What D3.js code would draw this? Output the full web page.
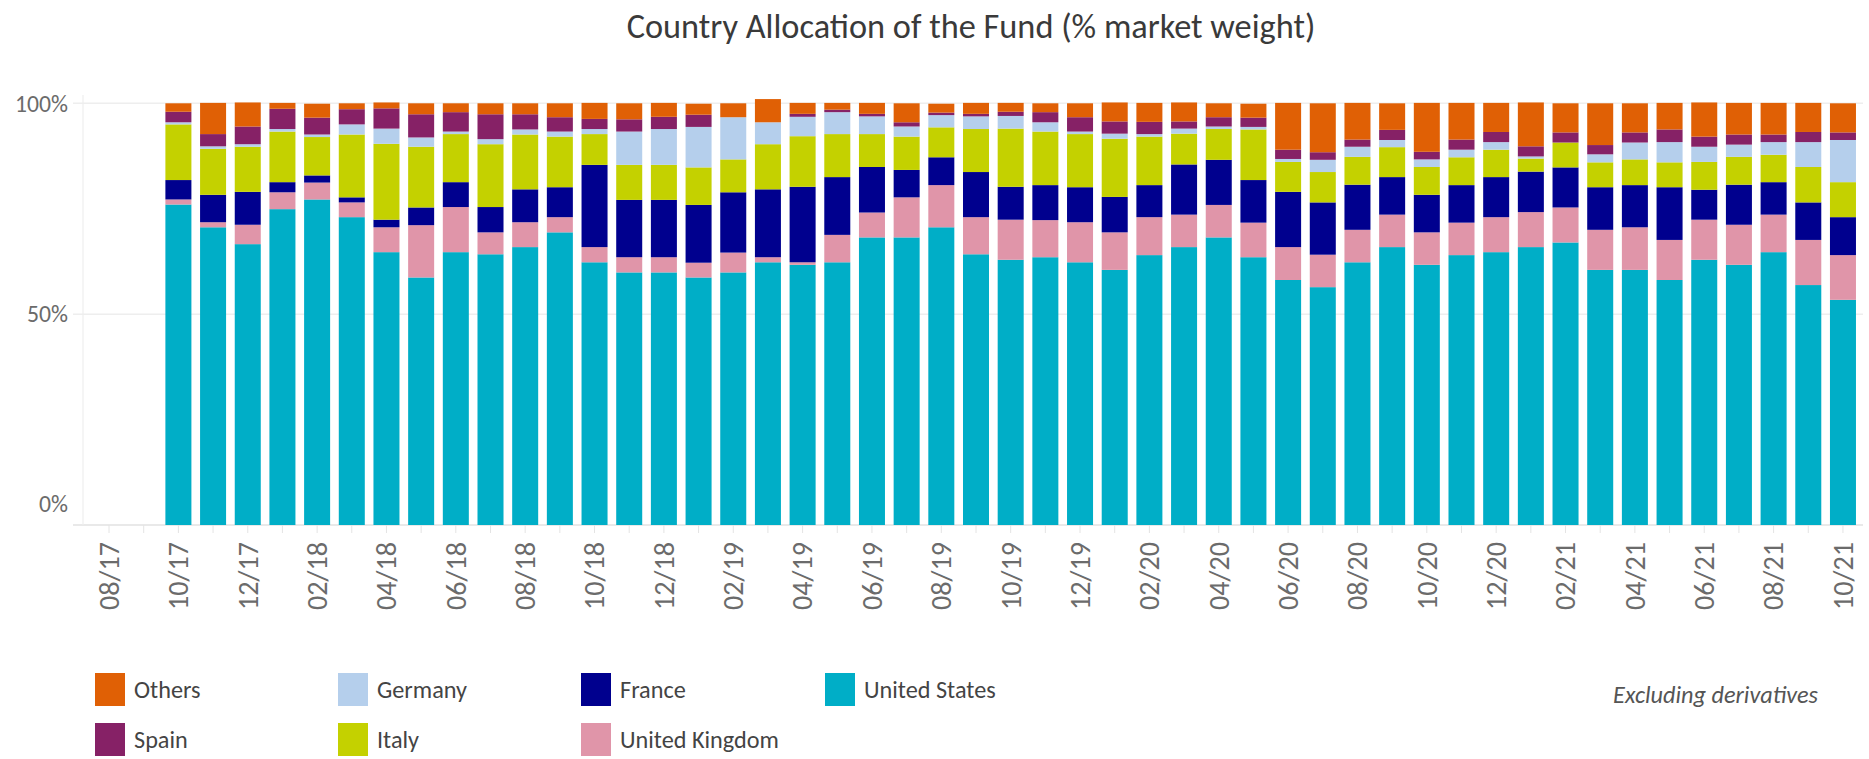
<!DOCTYPE html>
<html><head><meta charset="utf-8">
<script src="https://cdn.jsdelivr.net/npm/d3@7"></script>
<style>html,body{margin:0;padding:0;background:#fff;} svg{display:block;}</style>
</head><body>
<svg id="chart" width="1869" height="759"></svg>
<script>
// ---------- DATA ----------
const months = ["08/17","09/17","10/17","11/17","12/17","01/18","02/18","03/18","04/18","05/18","06/18","07/18","08/18","09/18","10/18","11/18","12/18",
  "01/19","02/19","03/19","04/19","05/19","06/19","07/19","08/19","09/19","10/19","11/19","12/19",
  "01/20","02/20","03/20","04/20","05/20","06/20","07/20","08/20","09/20","10/20","11/20","12/20",
  "01/21","02/21","03/21","04/21","05/21","06/21","07/21","08/21","09/21","10/21"];
const tickLabels = ["08/17","10/17","12/17","02/18","04/18","06/18","08/18","10/18","12/18","02/19","04/19","06/19","08/19","10/19","12/19",
  "02/20","04/20","06/20","08/20","10/20","12/20","02/21","04/21","06/21","08/21","10/21"];
const yTicks = [0, 50, 100];
const yTickLabels = ["0%", "50%", "100%"];

const unitedStates = [null,null,76.0,70.6,66.6,74.9,77.2,73.0,64.7,58.7,64.7,64.2,65.9,69.4,62.3,59.9,59.9,58.7,59.9,62.3,61.7,62.3,68.2,68.2,70.6,64.2,62.9,63.5,62.3,60.5,64.0,65.9,68.2,63.5,58.1,56.4,62.3,65.9,61.7,64.0,64.7,65.9,67.0,60.5,60.5,58.1,62.9,61.7,64.7,56.9,53.4];
const unitedKingdom = [null,null,1.2,1.2,4.6,4.0,4.0,3.5,5.9,12.4,10.7,5.2,5.9,3.6,3.6,3.6,3.6,3.5,4.7,1.2,0.6,6.5,5.9,9.5,10.0,8.8,9.5,8.8,9.5,8.9,9.0,7.7,7.7,8.2,7.8,7.7,7.7,7.7,7.7,7.7,8.3,8.3,8.3,9.5,10.1,9.5,9.5,9.5,8.9,10.7,10.6];
const france = [null,null,4.6,6.5,7.8,2.4,1.7,1.2,1.8,4.2,5.9,6.0,7.8,7.1,19.5,13.6,13.6,13.7,14.3,16.1,17.9,13.7,10.8,6.5,6.6,10.7,7.8,8.3,8.3,8.4,7.6,11.9,10.7,10.1,13.1,12.4,10.7,8.9,8.9,8.9,9.5,9.6,9.5,10.1,10.0,12.5,7.1,9.5,7.7,8.9,9.0];
const italy = [null,null,13.2,10.9,10.7,12.0,9.1,14.9,18.0,14.4,11.4,14.9,13.0,12.0,7.3,8.3,8.3,8.9,7.8,10.7,12.0,10.2,7.8,7.9,7.1,10.2,13.8,12.7,12.6,13.8,11.5,7.3,7.3,12.0,7.1,7.2,6.6,7.1,6.6,6.6,6.5,3.1,5.9,5.9,6.1,5.9,6.6,6.6,6.5,8.4,8.3];
const germany = [null,null,0.5,0.6,0.6,0.6,0.6,2.4,3.6,2.2,0.6,1.2,1.2,1.2,1.2,7.9,8.5,9.6,10.0,5.2,4.6,5.2,4.2,2.4,2.9,3.0,3.0,2.2,0.6,1.2,0.6,1.2,0.6,0.6,0.7,2.9,2.4,1.7,1.8,1.8,1.8,0.5,0.0,1.9,4.0,4.8,3.6,2.9,3.0,5.9,10.0];
const spain = [null,null,2.5,2.9,4.2,4.8,4.0,3.6,4.8,5.5,4.6,5.9,3.6,3.4,2.4,2.9,2.9,2.9,0.0,0.0,0.7,0.6,0.6,1.0,0.6,0.6,1.0,2.4,3.4,2.9,2.9,1.7,2.2,2.2,2.2,1.8,1.7,2.4,1.8,2.4,2.4,2.4,2.4,2.2,2.4,3.0,2.4,2.4,1.8,2.4,1.8];
const others = [null,null,2.0,7.4,5.7,1.4,3.3,1.4,1.4,2.6,2.1,2.6,2.6,3.3,3.8,3.8,3.3,2.6,3.3,5.5,2.6,1.6,2.6,4.5,2.1,2.6,2.1,2.1,3.3,4.5,4.5,4.5,3.3,3.3,11.1,11.6,8.7,6.3,11.6,8.7,6.9,10.4,6.9,9.9,6.9,6.3,8.1,7.5,7.5,6.9,6.9];

const seriesNames = ["United States","United Kingdom","France","Italy","Germany","Spain","Others"];
const seriesValues = [unitedStates, unitedKingdom, france, italy, germany, spain, others];
const seriesColors = ["#00AEC7","#E095A9","#00008E","#C4D100","#B5CFEC","#862166","#E06005"];
const legendRow1 = ["Others","Germany","France","United States"];
const legendRow2 = ["Spain","Italy","United Kingdom"];
const titleText = "Country Allocation of the Fund (% market weight)";
const noteText = "Excluding derivatives";

// ---------- CHART ----------
const svg = d3.select("#chart");
const FAMILY = "Carlito, Calibri, Lato, sans-serif";

function fitSize(text, target, style) {
  const t = svg.append("text").attr("font-family", FAMILY).attr("font-size", 100)
    .attr("font-style", style || "normal").text(text);
  const w = t.node().getComputedTextLength();
  t.remove();
  return 100 * target / w;
}

const rows = months.map((m, i) => {
  const r = { month: m, has: unitedStates[i] != null };
  seriesNames.forEach((s, k) => r[s] = seriesValues[k][i] == null ? 0 : seriesValues[k][i]);
  return r;
});
const stacked = d3.stack().keys(seriesNames)(rows);
const color = d3.scaleOrdinal().domain(seriesNames).range(seriesColors);

const x = d3.scaleBand().domain(months).range([91.7, 1860.3]).paddingInner(0.25).paddingOuter(0.125);
const y = d3.scaleLinear().domain([0, 100]).range([525, 103.3]);

const gridLeft = 73, gridRight = 1863;

// grid lines
svg.append("g").selectAll("line").data(yTicks).join("line")
  .attr("x1", gridLeft).attr("x2", gridRight)
  .attr("y1", d => y(d)).attr("y2", d => y(d))
  .attr("stroke", d => d === 0 ? "#e2e2e2" : "#eeeeee").attr("stroke-width", 1.5);

// left vertical line
svg.append("line").attr("x1", 83).attr("x2", 83).attr("y1", 95).attr("y2", y(0))
  .attr("stroke", "#eeeeee").attr("stroke-width", 1.2);

// month tick marks
svg.append("g").selectAll("line").data(months).join("line")
  .attr("x1", d => x(d) + x.bandwidth() / 2).attr("x2", d => x(d) + x.bandwidth() / 2)
  .attr("y1", y(0)).attr("y2", y(0) + 8)
  .attr("stroke", "#e4e4e4").attr("stroke-width", 1);

// bars
svg.append("g").selectAll("g").data(stacked).join("g")
  .attr("fill", d => color(d.key))
  .selectAll("rect").data(d => d.filter(p => p.data.has && p[1] - p[0] > 0)).join("rect")
  .attr("x", d => x(d.data.month))
  .attr("width", x.bandwidth())
  .attr("y", d => y(d[1]))
  .attr("height", d => y(d[0]) - y(d[1]));

// y tick labels (the 0% label sits slightly above its line, as in the original)
const yFont = fitSize("100%", 53);
svg.append("g").selectAll("text").data(yTicks).join("text")
  .attr("x", 68).attr("y", d => d === 0 ? y(d) - 21 : y(d)).attr("dy", "0.35em")
  .attr("text-anchor", "end").attr("font-family", FAMILY).attr("font-size", yFont)
  .attr("fill", "#6b6b6b").text((d, i) => yTickLabels[i]);

// x tick labels
const xFont = fitSize("08/17", 68);
svg.append("g").selectAll("text").data(tickLabels).join("text")
  .attr("transform", d => `translate(${x(d) + x.bandwidth() / 2},542) rotate(-90)`)
  .attr("dy", "0.35em").attr("text-anchor", "end")
  .attr("font-family", FAMILY).attr("font-size", xFont).attr("fill", "#6b6b6b")
  .text(d => d);

// title
const titleFont = fitSize(titleText, 689);
svg.append("text").attr("x", 971).attr("y", 38).attr("text-anchor", "middle")
  .attr("font-family", FAMILY).attr("font-size", titleFont).attr("fill", "#3a3a3a")
  .text(titleText);

// legend
const legFont = fitSize("United Kingdom", 159);
const colX = [95, 338, 581, 825];
const rowY = [673, 723];
[legendRow1, legendRow2].forEach((row, r) => {
  const g = svg.append("g").selectAll("g").data(row).join("g")
    .attr("transform", (d, i) => `translate(${colX[i]},${rowY[r]})`);
  g.append("rect").attr("width", 30).attr("height", 33).attr("fill", d => color(d));
  g.append("text").attr("x", 39).attr("y", 17).attr("dy", "0.35em")
    .attr("font-family", FAMILY).attr("font-size", legFont).attr("fill", "#444")
    .text(d => d);
});

// note
const noteFont = fitSize(noteText, 205, "italic");
svg.append("text").attr("x", 1818).attr("y", 695).attr("dy", "0.35em").attr("text-anchor", "end")
  .attr("font-family", FAMILY).attr("font-style", "italic").attr("font-size", noteFont)
  .attr("fill", "#555").text(noteText);
</script>
</body></html>
